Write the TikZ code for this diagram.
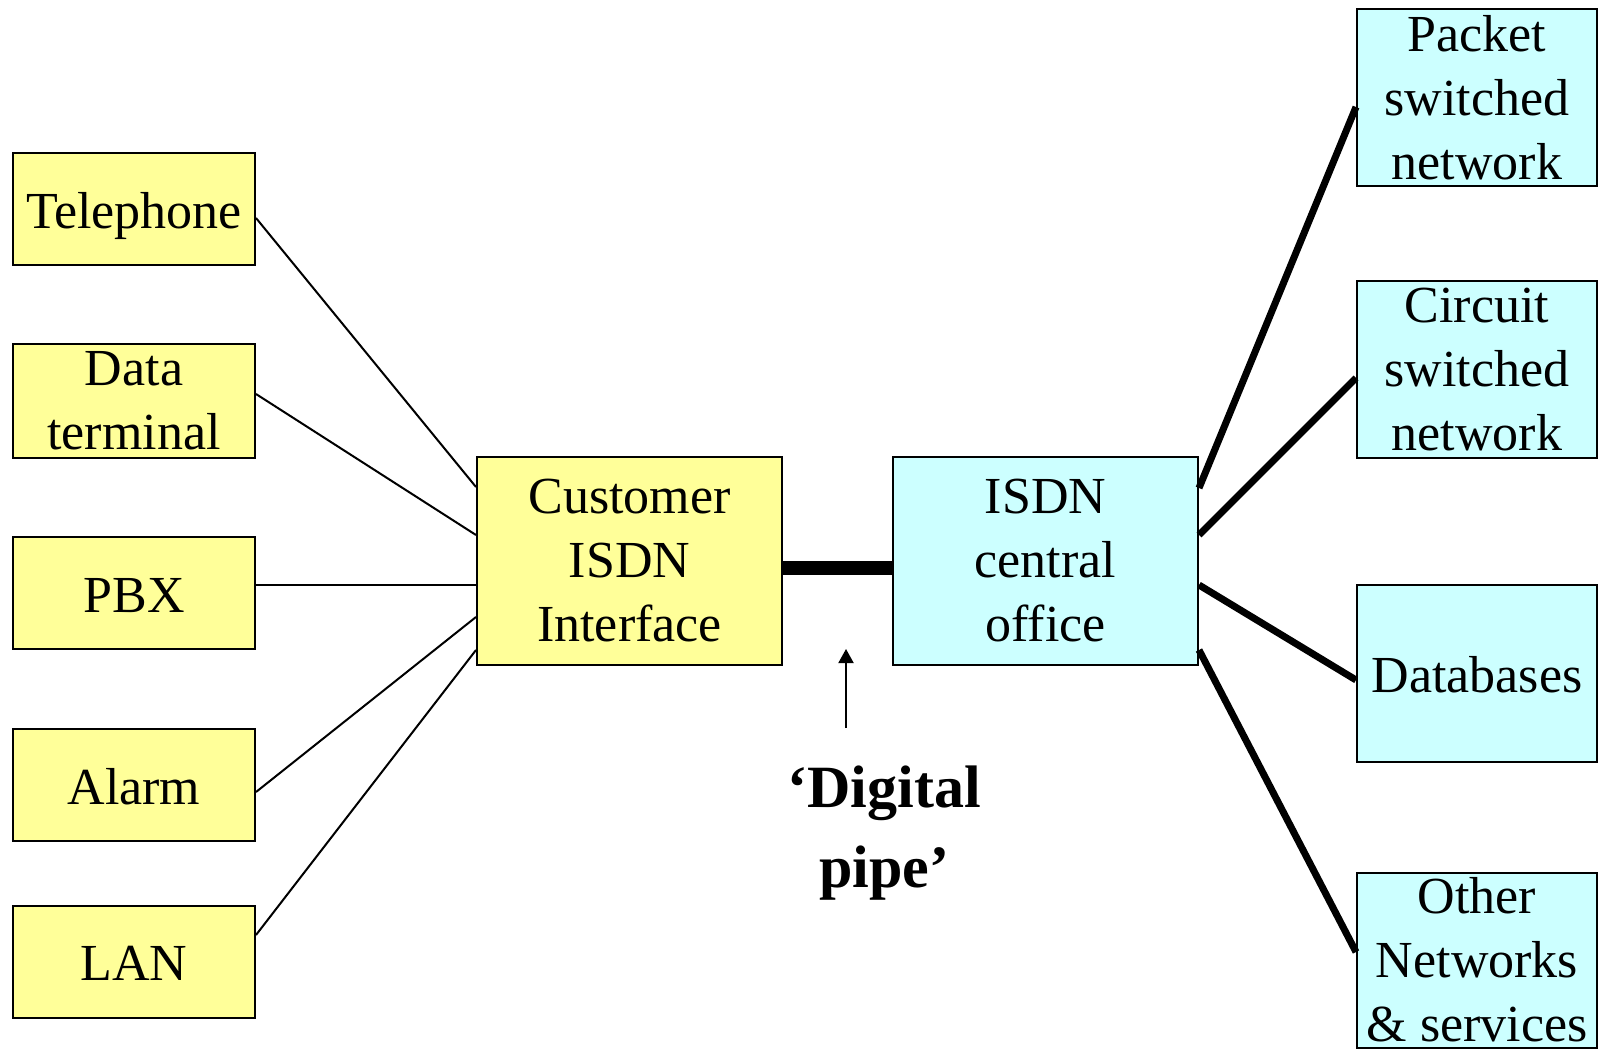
\documentclass[tikz,border=0pt]{standalone}
\usepackage{fontspec}
\setmainfont{Liberation Serif}
\usetikzlibrary{arrows.meta}
\definecolor{boxyellow}{HTML}{FFFF99}
\definecolor{boxcyan}{HTML}{CCFFFF}
\tikzset{
  box/.style = {draw=black, line width=1pt, inner sep=0pt, align=center,
    font=\fontsize{26}{32}\selectfont},
  box_y/.style = {box, fill=boxyellow, minimum width=121pt, minimum height=56pt},% terminal equipment
  one_line/.style = {text height=20pt, text depth=1pt},
  box_mid/.style = {box, minimum width=152.5pt, minimum height=104pt},% interface, office
  box_c/.style = {box, fill=boxcyan, minimum width=120pt, minimum height=88.5pt},% networks
  lnk_thin/.style = {line width=1pt},
  lnk_thick/.style = {line width=3.5pt},
  pipe_lbl/.style = {align=center, inner sep=0pt, font=\fontsize{30}{40}\selectfont\bfseries}
}
\begin{document}
\begin{tikzpicture}[x=0.5pt,y=-0.5pt,>={Triangle[length=7pt,width=7.5pt]}]
\useasboundingbox (0,0) rectangle (1599,1049);
% terminal equipment
\node [box_y, one_line] (tel) at (134,209) {Telephone};
\node [box_y, minimum height=57pt] (data) at (134,401) {Data\\terminal};
\node [box_y, one_line] (pbx) at (134,593) {PBX};
\node [box_y, one_line] (alarm) at (134,785) {Alarm};
\node [box_y, one_line] (lan) at (134,961.5) {LAN};
% interface and central office
\node [box_mid, fill=boxyellow] (cust) at (629.5,561) {Customer\\ISDN\\Interface};
\node [box_mid, fill=boxcyan] (office) at (1045.5,561) {ISDN\\central\\office};
% networks
\node [box_c] (packet) at (1477,97.5) {Packet\\switched\\network};
\node [box_c] (circuit) at (1477,369.5) {Circuit\\switched\\network};
\node [box_c, one_line] (dbase) at (1477,673) {Databases};
\node [box_c, minimum height=87.5pt] (other) at (1477,960) {Other\\Networks\\\& services};
% label
\node [pipe_lbl] (pipe) at (884,833) {‘Digital\\pipe’};
\coordinate (arr_tail) at (846,728);
\coordinate (arr_tip) at (846,649);

\draw [lnk_thin] ([yshift=-4.5pt]tel.east) -- ([yshift=37pt]cust.west);
\draw [lnk_thin] ([yshift=3.5pt]data.east) -- ([yshift=13pt]cust.west);
\draw [lnk_thin] ([yshift=4pt]pbx.east) -- ([yshift=-12pt]cust.west);
\draw [lnk_thin] ([yshift=-3.5pt]alarm.east) -- ([yshift=-28pt]cust.west);
\draw [lnk_thin] ([yshift=13.25pt]lan.east) -- ([yshift=-44.5pt]cust.west);

\draw [line width=7pt] ([yshift=-3.5pt]cust.east) -- ([yshift=-3.5pt]office.west);

\draw [lnk_thick] ([yshift=36.5pt]office.east) -- ([yshift=-4.75pt]packet.west);
\draw [lnk_thick] ([yshift=13pt]office.east) -- ([yshift=-4.25pt]circuit.west);
\draw [lnk_thick] ([yshift=-12pt]office.east) -- ([yshift=-3.5pt]dbase.west);
\draw [lnk_thick] ([yshift=-44.5pt]office.east) -- ([yshift=4pt]other.west);

\draw [->, lnk_thin] (arr_tail) -- (arr_tip);
\end{tikzpicture}
\end{document}
